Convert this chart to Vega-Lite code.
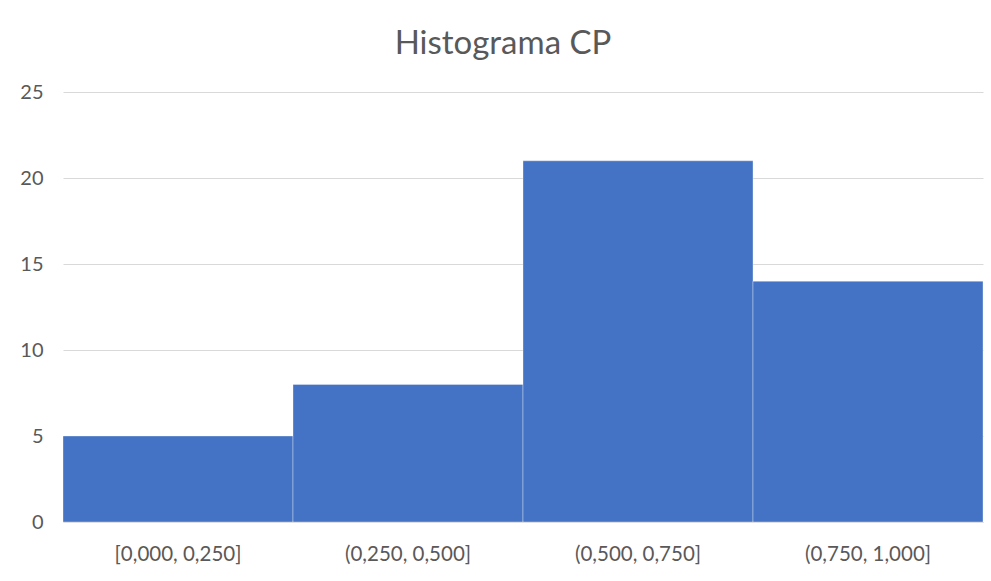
{
  "$schema": "https://vega.github.io/schema/vega-lite/v6.json",
  "autosize": "none",
  "width": 920,
  "height": 430,
  "padding": {"left": 63, "top": 92, "right": 8, "bottom": 59},
  "background": "white",
  "title": {
    "text": "Histograma CP",
    "font": "Lato",
    "fontSize": 33,
    "fontWeight": "normal",
    "color": "#595959",
    "anchor": "middle",
    "dx": -20,
    "baseline": "alphabetic",
    "offset": -5
  },
  "data": {
    "values": [
      {"bin": "[0,000, 0,250]", "count": 5},
      {"bin": "(0,250, 0,500]", "count": 8},
      {"bin": "(0,500, 0,750]", "count": 21},
      {"bin": "(0,750, 1,000]", "count": 14}
    ]
  },
  "mark": {"type": "bar", "color": "#4472C4", "stroke": "#ffffff", "strokeOpacity": 0.35, "strokeWidth": 1},
  "encoding": {
    "x": {
      "field": "bin",
      "type": "ordinal",
      "sort": null,
      "scale": {"paddingInner": 0, "paddingOuter": 0},
      "axis": {
        "title": null,
        "labelAngle": 0,
        "labelFont": "Lato",
        "labelFontSize": 20.5,
        "labelColor": "#595959",
        "labelPadding": 22,
        "ticks": false,
        "domainColor": "#d9d9d9",
        "domainWidth": 1
      }
    },
    "y": {
      "field": "count",
      "type": "quantitative",
      "scale": {"domain": [0, 25]},
      "axis": {
        "title": null,
        "values": [0, 5, 10, 15, 20, 25],
        "labelFont": "Lato",
        "labelFontSize": 20,
        "labelColor": "#595959",
        "labelPadding": 20,
        "ticks": false,
        "domain": false,
        "gridColor": "#d9d9d9",
        "gridWidth": 1
      }
    }
  },
  "config": {"view": {"stroke": null}}
}
